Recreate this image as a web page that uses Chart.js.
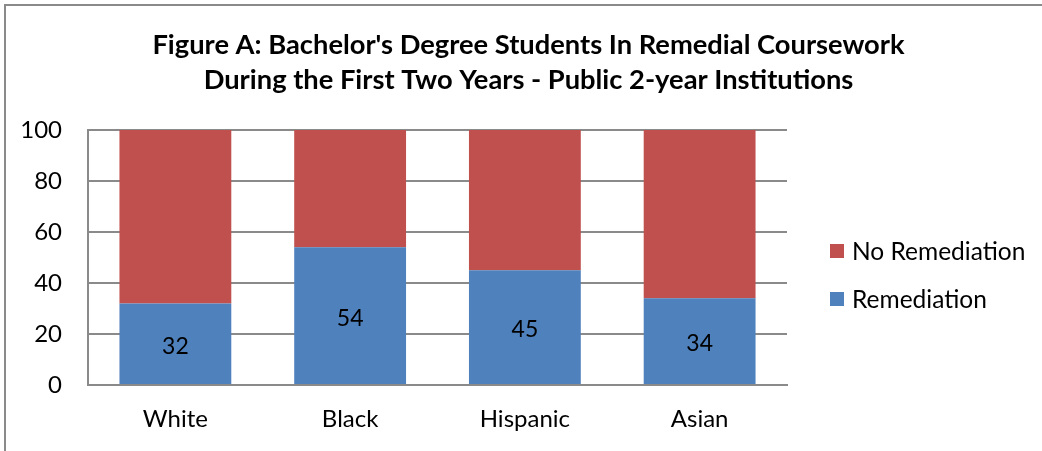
<!DOCTYPE html>
<html>
<head>
<meta charset="utf-8">
<script src="https://cdn.jsdelivr.net/npm/chart.js@4.4.1/dist/chart.umd.min.js"></script>
<style>
  html, body { margin: 0; padding: 0; background: #fff; }
  #wrap { position: relative; width: 1042px; height: 451px; overflow: hidden; }
  #frame { position: absolute; left: 4px; top: 4px; width: 1100px; height: 500px;
           border-left: 2px solid #8a8a8a; border-top: 2px solid #8a8a8a; }
  canvas { position: absolute; left: 0; top: 0; }
</style>
</head>
<body>
<div id="wrap">
  <div id="frame"></div>
  <canvas id="c" width="1042" height="451"></canvas>
</div>
<script>
const categories = ["White", "Black", "Hispanic", "Asian"];
const remediation = [32, 54, 45, 34];
const noRemediation = [68, 46, 55, 66];
const yTicks = [0, 20, 40, 60, 80, 100];
const titleLines = ["Figure A: Bachelor's Degree Students In Remedial Coursework",
                    "During the First Two Years - Public 2-year Institutions"];

const FONT = "Lato, 'Open Sans', sans-serif";

const valueLabels = {
  id: 'valueLabels',
  afterDatasetsDraw(chart) {
    const ctx = chart.ctx;
    const meta = chart.getDatasetMeta(0);
    ctx.save();
    ctx.font = "23px " + FONT;
    ctx.fillStyle = "#000";
    ctx.textAlign = "center";
    ctx.textBaseline = "middle";
    meta.data.forEach((bar, i) => {
      const y = (bar.y + bar.base) / 2;
      ctx.fillText(String(remediation[i]), bar.x, y + 2.5);
    });
    ctx.restore();
  }
};

const titleAndLegend = {
  id: 'titleAndLegend',
  afterDraw(chart) {
    const ctx = chart.ctx;
    const area = chart.chartArea;
    ctx.save();
    // title
    ctx.font = "bold 27.3px " + FONT;
    ctx.fillStyle = "#000";
    ctx.textAlign = "center";
    ctx.textBaseline = "middle";
    titleLines.forEach((line, i) => ctx.fillText(line, 528.5, 45 + i * 35));
    // legend (reverse order)
    ctx.font = "24.5px " + FONT;
    ctx.textAlign = "left";
    const ds = chart.data.datasets.slice().reverse();
    const midY = (area.top + area.bottom) / 2;
    ds.forEach((d, i) => {
      const cy = midY - 6.5 + i * 48;
      const x = area.right + 43;
      ctx.fillStyle = d.backgroundColor;
      ctx.fillRect(x, cy - 7, 14, 14);
      ctx.fillStyle = "#000";
      ctx.fillText(d.label, x + 22, cy + 1);
    });
    ctx.restore();
  }
};

new Chart(document.getElementById('c'), {
  type: 'bar',
  data: {
    labels: categories,
    datasets: [
      { label: "Remediation", data: remediation, backgroundColor: "#4F81BD",
        categoryPercentage: 1, barPercentage: 0.64 },
      { label: "No Remediation", data: noRemediation, backgroundColor: "#C0504D",
        categoryPercentage: 1, barPercentage: 0.64 }
    ]
  },
  options: {
    responsive: false,
    animation: false,
    devicePixelRatio: 1,
    layout: { padding: { left: 22, right: 255, top: 130, bottom: 0 } },
    plugins: {
      tooltip: { enabled: false },
      title: { display: false },
      legend: { display: false }
    },
    scales: {
      x: {
        stacked: true,
        grid: { display: false },
        border: { color: "#8a8a8a", width: 2 },
        ticks: { color: "#000", font: { family: FONT, size: 24 }, padding: 12, maxRotation: 0 },
        afterFit(scale) { scale.height = 66; }
      },
      y: {
        stacked: true,
        min: 0, max: 100,
        afterBuildTicks(axis) { axis.ticks = yTicks.map(v => ({ value: v })); },
        grid: { color: "#8a8a8a", lineWidth: 2, drawTicks: false },
        border: { color: "#8a8a8a", width: 2 },
        ticks: { color: "#000", font: { family: FONT, size: 24 }, padding: 26 },
        afterFit(scale) { scale.width = 66; }
      }
    }
  },
  plugins: [valueLabels, titleAndLegend]
});
</script>
</body>
</html>
